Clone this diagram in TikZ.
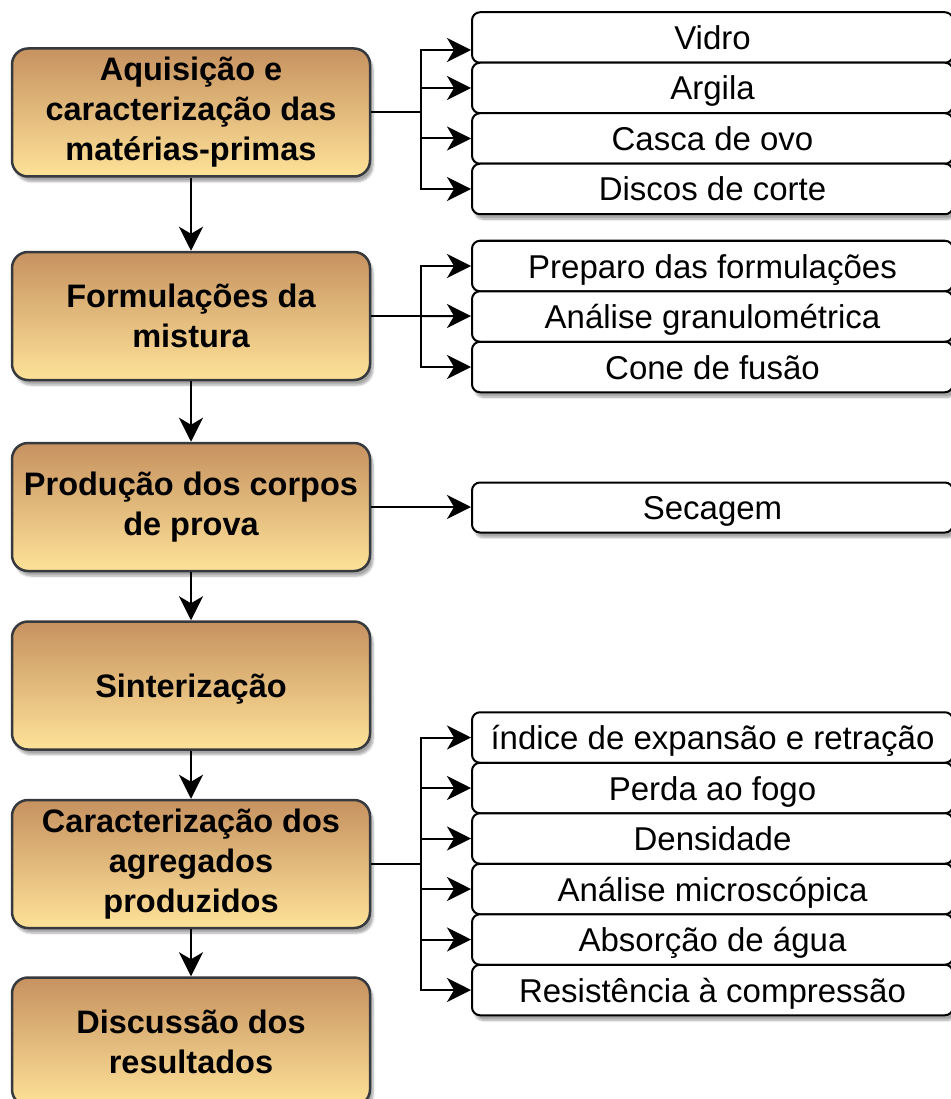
\documentclass[tikz,border=0pt]{standalone}
\usepackage{fontspec}
\setmainfont{Liberation Sans}
\usepackage{xcolor}
\usetikzlibrary{arrows.meta, positioning, calc, shadows.blur}
\definecolor{stagetop}{RGB}{198,146,96}
\definecolor{stagebottom}{RGB}{254,226,152}
\definecolor{stageborder}{RGB}{54,57,61}
\tikzset{
	stage/.style={rectangle, draw=stageborder, line width=2.5pt, rounded corners=16pt, top color=stagetop, bottom color=stagebottom, minimum width=358pt, minimum height=128pt, align=center, inner sep=0pt, font=\fontsize{32.5}{40}\selectfont\bfseries, execute at begin node={\rule{0pt}{30pt}}, blur shadow={shadow xshift=3pt, shadow yshift=-5pt, shadow opacity=35, shadow blur steps=6}},
	task/.style={rectangle, draw, line width=2pt, rounded corners=8pt, fill=white, minimum width=481pt, minimum height=50.5pt, inner sep=0pt, text height=31pt, text depth=7pt, font=\fontsize{33}{40}\selectfont, blur shadow={shadow xshift=3pt, shadow yshift=-5pt, shadow opacity=35, shadow blur steps=6}},
	line/.style={draw, line width=2pt, -{Stealth[length=24pt, width=24pt, inset=7pt]}}
}

\begin{document}
\begin{tikzpicture}[x=1pt, y=-1pt]
	\useasboundingbox (0,0) rectangle (950,1099);
	
	% Main stages (left column)
	\node[stage] (acquisition) at (191,112.5) {Aquisição e\\caracterização das\\matérias-primas};
	\node[stage] (formulation) at (191,316) {Formulações da\\mistura};
	\node[stage] (production) at (191,507) {Produção dos corpos\\de prova};
	\node[stage] (sintering) at (191,685.5) {Sinterização};
	\node[stage] (characterization) at (191,864) {Caracterização dos\\agregados\\produzidos};
	\node[stage] (discussion) at (191,1041.5) {Discussão dos\\resultados};
	
	% Main path arrows
	\path[line] (acquisition) -- (formulation);
	\path[line] (formulation) -- (production);
	\path[line] (production) -- (sintering);
	\path[line] (sintering) -- (characterization);
	\path[line] (characterization) -- (discussion);
	
	%
	% Raw materials (right, top)
	%
	\node[task] (glass) at (712.5,37.5) {Vidro};
	\node[task] (clay) at ($(glass)+(0,50.5)$) {Argila};
	\node[task] (eggshell) at ($(clay)+(0,50.5)$) {Casca de ovo};
	\node[task] (cutting_discs) at ($(eggshell)+(0,50.5)$) {Discos de corte};
	
	\coordinate (acquisition_bus) at (421,112.5);
	\draw[line width=2pt] (acquisition) -- (acquisition_bus);
	\path[line] (acquisition_bus) |- ([yshift=-12.5pt]glass.west);
	\path[line] (acquisition_bus) |- (clay);
	\path[line] (acquisition_bus) |- (eggshell);
	\path[line] (acquisition_bus) |- (cutting_discs);
	
	%
	% Mixture
	%
	\node[task] (preparation) at (712.5,266) {Preparo das formulações};
	\node[task] (granulometry) at ($(preparation)+(0,50.5)$) {Análise granulométrica};
	\node[task] (fusion_cone) at ($(granulometry)+(0,50.5)$) {Cone de fusão};
	
	\coordinate (formulation_bus) at (421,316);
	\draw[line width=2pt] (formulation) -- (formulation_bus);
	\path[line] (formulation_bus) |- (preparation);
	\path[line] (formulation_bus) -- (granulometry);
	\path[line] (formulation_bus) |- (fusion_cone);
	
	%
	% Specimens
	%
	\node[task, minimum height=50pt] (drying) at (712.5,507.5) {Secagem};
	\path[line] (production) -- (drying.west |- production);
	
	%
	% Aggregate tests (right, bottom)
	%
	\node[task] (expansion_index) at (712.5,737.5) {índice de expansão e retração};
	\node[task] (fire_loss) at ($(expansion_index)+(0,50.5)$) {Perda ao fogo};
	\node[task] (density) at ($(fire_loss)+(0,50.5)$) {Densidade};
	\node[task] (microscopy) at ($(density)+(0,50.5)$) {Análise microscópica};
	\node[task] (water_absorption) at ($(microscopy)+(0,50.5)$) {Absorção de água};
	\node[task] (compressive_strength) at ($(water_absorption)+(0,50.5)$) {Resistência à compressão};
	
	\coordinate (characterization_bus) at (421,864);
	\draw[line width=2pt] (characterization) -- (characterization_bus);
	\path[line] (characterization_bus) |- (expansion_index);
	\path[line] (characterization_bus) |- (fire_loss);
	\path[line] (characterization_bus) |- (density);
	\path[line] (characterization_bus) |- (microscopy);
	\path[line] (characterization_bus) |- (water_absorption);
	\path[line] (characterization_bus) |- (compressive_strength);
	
\end{tikzpicture}
\end{document}
